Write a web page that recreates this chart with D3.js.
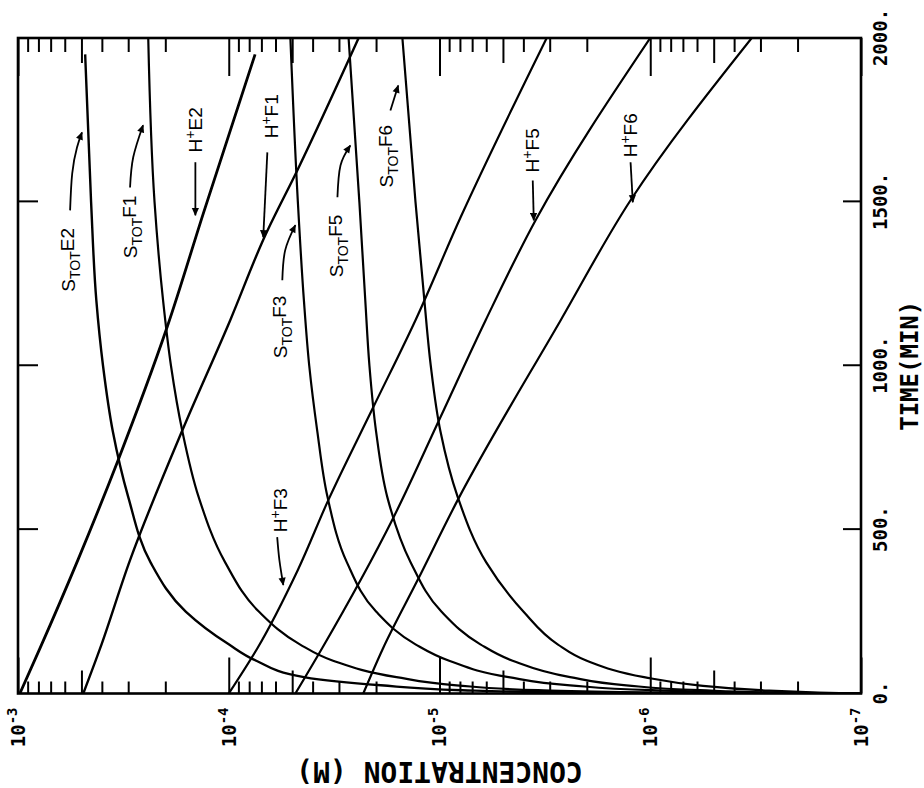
<!DOCTYPE html>
<html>
<head>
<meta charset="utf-8">
<script src="https://d3js.org/d3.v7.min.js"></script>
<style>
  body { margin: 0; background: #ffffff; }
</style>
</head>
<body>
<div id="chart"></div>
<script>
// axis ticks
var timeTicks = [500, 1000, 1500];
var timeLabelTicks = [0, 500, 1000, 1500, 2000];
var timeLabels = ["0.", "500.", "1000.", "1500.", "2000."];
var concDecades = [1e-3, 1e-4, 1e-5, 1e-6, 1e-7];
var concExponents = ["-3", "-4", "-5", "-6", "-7"];

// S_TOT curves (time in min, concentration in M)
var sTimeE2 = [0, 3, 10, 25, 50, 100, 150, 250, 400, 600, 800, 1000, 1200, 1500, 1950];
var sTotE2 = [1e-7, 2.3e-6, 7.8e-6, 1.9e-5, 4.4e-5, 7.4e-5, 1.0e-4, 1.6e-4, 2.35e-4, 3.0e-4, 3.55e-4, 3.95e-4, 4.25e-4, 4.5e-4, 4.8e-4];
var sTime = [0, 3, 10, 25, 50, 100, 150, 250, 400, 600, 800, 1000, 1200, 1500, 2000];
var sTotF1 = [1e-7, 1.0e-6, 3.4e-6, 8.3e-6, 1.6e-5, 3.2e-5, 4.6e-5, 7.2e-5, 1.04e-4, 1.39e-4, 1.66e-4, 1.88e-4, 2.05e-4, 2.25e-4, 2.41e-4];
var sTotF3 = [1e-7, 3.0e-7, 9.8e-7, 2.4e-6, 4.7e-6, 9.0e-6, 1.3e-5, 2.0e-5, 2.75e-5, 3.4e-5, 3.8e-5, 4.15e-5, 4.4e-5, 4.7e-5, 5.1e-5];
var sTotF5 = [1e-7, 2.4e-7, 5.8e-7, 1.3e-6, 2.4e-6, 4.5e-6, 6.4e-6, 9.8e-6, 1.37e-5, 1.77e-5, 2.0e-5, 2.15e-5, 2.25e-5, 2.4e-5, 2.7e-5];
var sTotF6 = [1e-7, 1.6e-7, 3.0e-7, 5.9e-7, 1.07e-6, 2.0e-6, 2.75e-6, 4.0e-6, 6.0e-6, 8.2e-6, 9.9e-6, 1.1e-5, 1.18e-5, 1.3e-5, 1.5e-5];

// H+ curves
var hTimeE2 = [0, 139, 407, 712, 1118, 1465, 1950];
var hE2 = [9.8e-4, 7.85e-4, 5.2e-4, 3.35e-4, 1.96e-4, 1.32e-4, 7.5e-5];
var hTimeF1 = [0, 139, 407, 803, 1139, 1399, 1596, 2000];
var hF1 = [4.9e-4, 4.07e-4, 2.94e-4, 1.66e-4, 9.84e-5, 6.7e-5, 4.73e-5, 2.42e-5];
var hTimeF3 = [0, 139, 377, 590, 874, 1139, 1453, 2000];
var hF3 = [1.0e-4, 7.3e-5, 4.7e-5, 3.37e-5, 2.06e-5, 1.3e-5, 7.94e-6, 3.1e-6];
var hTimeF5 = [0, 139, 535, 843, 1139, 1444, 2000];
var hF5 = [4.83e-5, 3.6e-5, 1.66e-5, 9.9e-6, 6.04e-6, 3.5e-6, 1.0e-6];
var hTimeF6 = [0, 139, 346, 590, 1139, 1505, 2000];
var hF6 = [2.3e-5, 1.85e-5, 1.27e-5, 8.2e-6, 2.66e-6, 1.24e-6, 3.3e-7];

// curve labels: kind, tag, where the text starts (time, conc)
var labelKinds = ["S", "S", "H", "H", "S", "S", "S", "H", "H", "H"];
var labelTags = ["E2", "F1", "E2", "F1", "F3", "F5", "F6", "F3", "F5", "F6"];
var labelTimes = [1226, 1328, 1651, 1694, 1023, 1270, 1544, 492, 1590, 1636];
var labelConcs = [5.36e-4, 2.72e-4, 1.34e-4, 5.82e-5, 5.27e-5, 2.86e-5, 1.66e-5, 5.27e-5, 3.39e-6, 1.15e-6];

// arrows from labels to curves, [time, conc]
var arrowPaths = [
  [[1474, 5.66e-4], [1587, 5.53e-4], [1666, 5.25e-4], [1712, 4.97e-4]],
  [[1544, 2.94e-4], [1636, 2.84e-4], [1734, 2.55e-4]],
  [[1621, 1.44e-4], [1459, 1.44e-4]],
  [[1651, 6.56e-5], [1392, 6.86e-5]],
  [[1261, 5.57e-5], [1352, 5.40e-5], [1429, 4.83e-5]],
  [[1514, 3.05e-5], [1611, 2.95e-5], [1672, 2.65e-5]],
  [[1779, 1.71e-5], [1855, 1.57e-5]],
  [[477, 5.89e-5], [407, 5.75e-5], [331, 5.51e-5]],
  [[1565, 3.61e-6], [1444, 3.57e-6]],
  [[1621, 1.24e-6], [1499, 1.21e-6]]
];

var series = [
  [sTimeE2, sTotE2, 2.4], [sTime, sTotF1, 2.2], [sTime, sTotF3, 2.2],
  [sTime, sTotF5, 2.2], [sTime, sTotF6, 2.2],
  [hTimeE2, hE2, 2.8], [hTimeF1, hF1, 2.4], [hTimeF3, hF3, 2.2],
  [hTimeF5, hF5, 2.2], [hTimeF6, hF6, 2.2]
];

var W = 655.5, H = 843;   // plot drawn upright, then turned a quarter left

var svg = d3.select("#chart").append("svg")
  .attr("width", 924)
  .attr("height", 788)
  .style("background", "#fff");

svg.append("defs").append("marker")
  .attr("id", "head")
  .attr("viewBox", "0 0 10 10")
  .attr("refX", 9).attr("refY", 5)
  .attr("markerWidth", 9).attr("markerHeight", 8)
  .attr("markerUnits", "userSpaceOnUse")
  .attr("orient", "auto")
  .append("path").attr("d", "M0,0.5 L10,5 L0,9.5 z").attr("fill", "#000");

svg.select("defs").append("clipPath").attr("id", "plotclip")
  .append("rect").attr("width", W).attr("height", H);

var g = svg.append("g")
  .attr("transform", "translate(18,693.5) rotate(-90)");

var x = d3.scaleLinear().domain([0, 2000]).range([0, W]);
var y = d3.scaleLog().domain([1e-3, 1e-7]).range([0, H]);

// log ticks: decades long, fives medium, rest short
var majorVals = concDecades;
var midVals = [], minorVals = [];
concDecades.slice(1).forEach(function(d) {
  for (var m = 2; m <= 9; m++) {
    if (m == 5) midVals.push(m * d); else minorVals.push(m * d);
  }
});

function tickGroup(axis, tx, ty) {
  var a = g.append("g").attr("transform", "translate(" + tx + "," + ty + ")").call(axis);
  a.select(".domain").remove();
  a.selectAll("line").attr("stroke", "#000").attr("stroke-width", 2);
  a.selectAll("text").remove();
  return a;
}

[[majorVals, 36], [midVals, 23], [minorVals, 12]].forEach(function(p) {
  tickGroup(d3.axisLeft(y).tickValues(p[0]).tickSize(-p[1]).tickFormat(""), 0, 0);
  tickGroup(d3.axisRight(y).tickValues(p[0]).tickSize(-(p[1] + 2)).tickFormat(""), W, 0);
});
tickGroup(d3.axisBottom(x).tickValues(timeTicks).tickSize(-18).tickFormat(""), 0, H);
tickGroup(d3.axisTop(x).tickValues(timeTicks).tickSize(-20).tickFormat(""), 0, 0);

// frame
g.append("rect")
  .attr("width", W).attr("height", H)
  .attr("fill", "none").attr("stroke", "#000").attr("stroke-width", 2.6);

// time labels
var tAxis = g.append("g")
  .attr("transform", "translate(0," + H + ")")
  .call(d3.axisBottom(x).tickValues(timeLabelTicks).tickSize(0).tickPadding(13)
    .tickFormat(function(d, i) { return timeLabels[i]; }));
tAxis.select(".domain").remove();
tAxis.selectAll("text")
  .attr("font-family", "'DejaVu Sans Mono', monospace")
  .attr("font-weight", "bold")
  .attr("font-size", 19)
  .attr("fill", "#000");

g.append("text")
  .attr("x", W / 2).attr("y", H + 57)
  .attr("text-anchor", "middle")
  .attr("font-family", "'DejaVu Sans Mono', monospace")
  .attr("font-weight", "bold")
  .attr("font-size", 24)
  .text("TIME(MIN)");

// concentration labels
concDecades.forEach(function(d, i) {
  var t = g.append("text")
    .attr("x", -14).attr("y", y(d))
    .attr("dy", "0.36em")
    .attr("text-anchor", "end")
    .attr("font-family", "'DejaVu Sans Mono', monospace")
    .attr("font-weight", "bold")
    .attr("font-size", 19);
  t.append("tspan").text("10");
  t.append("tspan").attr("font-size", 14).attr("dy", -8).text(concExponents[i]);
});

g.append("text")
  .attr("transform", "translate(-68," + (H / 2) + ") rotate(-90)")
  .attr("text-anchor", "middle")
  .attr("font-family", "'DejaVu Sans Mono', monospace")
  .attr("font-weight", "bold")
  .attr("font-size", 28)
  .text("CONCENTRATION (M)");

// curves
var line = d3.line()
  .x(function(d) { return x(d[0]); })
  .y(function(d) { return y(d[1]); })
  .curve(d3.curveMonotoneX);

var curves = g.append("g").attr("clip-path", "url(#plotclip)");
series.forEach(function(s) {
  var pts = s[0].map(function(t, i) { return [t, s[1][i]]; });
  curves.append("path")
    .attr("d", line(pts))
    .attr("fill", "none")
    .attr("stroke", "#000")
    .attr("stroke-width", s[2]);
});

// arrows
var arrowLine = d3.line()
  .x(function(d) { return x(d[0]); })
  .y(function(d) { return y(d[1]); })
  .curve(d3.curveNatural);

arrowPaths.forEach(function(p) {
  g.append("path")
    .attr("d", arrowLine(p))
    .attr("fill", "none")
    .attr("stroke", "#000")
    .attr("stroke-width", 1.8)
    .attr("marker-end", "url(#head)");
});

// curve labels
labelKinds.forEach(function(k, i) {
  var t = g.append("text")
    .attr("x", x(labelTimes[i]))
    .attr("y", y(labelConcs[i]))
    .attr("font-family", "'Liberation Sans', Arial, sans-serif")
    .attr("font-size", 19)
    .attr("fill", "#000");
  if (k == "S") {
    t.append("tspan").text("S");
    t.append("tspan").attr("font-size", 14).attr("dy", 5).text("TOT");
    t.append("tspan").attr("dy", -6).text(labelTags[i]);
  } else {
    t.append("tspan").text("H");
    t.append("tspan").attr("font-size", 14).attr("dy", -7).text("+");
    t.append("tspan").attr("dy", 7).text(labelTags[i]);
  }
});
</script>
</body>
</html>
